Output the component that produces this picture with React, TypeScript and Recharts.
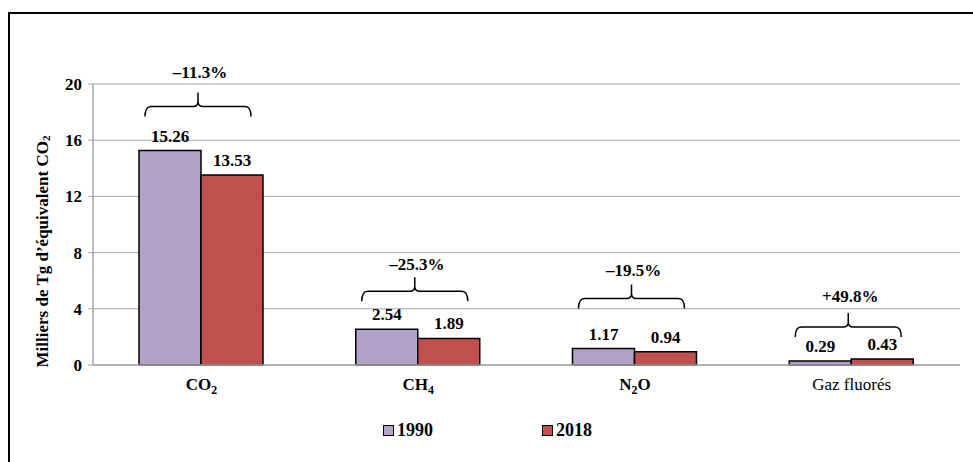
import React from 'react';
import { BarChart, Bar, XAxis, YAxis, CartesianGrid, LabelList, Legend } from 'recharts';

const categories = ['CO2', 'CH4', 'N2O', 'Gaz fluorés'];
const values1990 = [15.26, 2.54, 1.17, 0.29];
const values2018 = [13.53, 1.89, 0.94, 0.43];
const changeLabels = ['–11.3%', '–25.3%', '–19.5%', '+49.8%'];
const yTicks = [0, 4, 8, 12, 16, 20];
const seriesNames = ['1990', '2018'];

// layout (pixels): bracket distance above tallest bar, percent label distance above bracket tip
const bracketOffsets = [34, 28, 40, 22];
const pctGaps = [20, 13, 14, 16];

const data = categories.map((c, i) => ({ cat: c, v1990: values1990[i], v2018: values2018[i] }));

const FONT = '"Liberation Serif", "Times New Roman", serif';
const GRID = '#a6a6a6';
const C1990 = '#B3A2C7';
const C2018 = '#C0504D';
const FS = 17;

const renderFormula = (s: string, size: number) => {
  const parts: React.ReactNode[] = [];
  let prevSub = false;
  s.split('').forEach((ch, i) => {
    const isDigit = /\d/.test(ch);
    if (isDigit) {
      parts.push(<tspan key={i} dy={prevSub ? 0 : 4} fontSize={size * 0.7}>{ch}</tspan>);
      prevSub = true;
    } else {
      parts.push(<tspan key={i} dy={prevSub ? -4 : 0}>{ch}</tspan>);
      prevSub = false;
    }
  });
  return parts;
};

const CatTick = (props: any) => {
  const { x, y, payload } = props;
  const label: string = payload.value;
  const isFormula = /\d/.test(label);
  return (
    <text x={x} y={y + 17} textAnchor="middle" fontFamily={FONT} fontSize={FS} fontWeight={isFormula ? 'bold' : 'normal'} fill="#000">
      {renderFormula(label, FS)}
    </text>
  );
};

const renderBracket = (props: any) => {
  const { x, y, height, index } = props;
  const v0 = values1990[index];
  const v1 = values2018[index];
  const baseline = y + height;
  const ppu = height / v1;
  const top = baseline - Math.max(v0, v1) * ppu;
  const xc = x - 3;
  const hw = 53;
  const yEnd = top - bracketOffsets[index];
  const yH = yEnd - 10;
  const yTip = yEnd - 24;
  const d =
    `M ${xc - hw} ${yEnd} Q ${xc - hw} ${yH} ${xc - hw + 6} ${yH} L ${xc - 5} ${yH} Q ${xc} ${yH} ${xc} ${yH - 5} L ${xc} ${yTip} ` +
    `M ${xc + hw} ${yEnd} Q ${xc + hw} ${yH} ${xc + hw - 6} ${yH} L ${xc + 5} ${yH} Q ${xc} ${yH} ${xc} ${yH - 5}`;
  return (
    <g key={`br-${index}`}>
      <path d={d} fill="none" stroke="#000" strokeWidth={1.5} />
      <text x={xc + 2} y={yTip - pctGaps[index]} textAnchor="middle" dominantBaseline="central" fontFamily={FONT} fontSize={FS} fontWeight="bold" fill="#000">
        {changeLabels[index]}
      </text>
    </g>
  );
};

const YLabel = (props: any) => {
  const vb = props.viewBox || { x: 0, y: 84, width: 93, height: 281 };
  const cx = vb.x + 42;
  const cy = vb.y + vb.height / 2 + 27;
  return (
    <text x={cx} y={cy} transform={`rotate(-90 ${cx} ${cy})`} textAnchor="middle" dominantBaseline="central" fontFamily={FONT} fontSize={17} fontWeight="bold" fill="#000">
      <tspan>Milliers de Tg d’équivalent CO</tspan>
      <tspan dy={4} fontSize={11}>2</tspan>
    </text>
  );
};

const LegendContent = (props: any) => {
  const payload = props.payload || [];
  const lefts = [383, 542];
  return (
    <div style={{ position: 'relative', height: 20, width: 973 }}>
      {payload.map((p: any, i: number) => (
        <div key={i} style={{ position: 'absolute', left: lefts[i], top: 0, display: 'flex', alignItems: 'center', height: 20 }}>
          <span style={{ display: 'inline-block', width: 9, height: 9, background: p.color, border: '1px solid #000', marginRight: 3 }} />
          <span style={{ fontFamily: FONT, fontWeight: 'bold', fontSize: 18, color: '#000' }}>{p.value}</span>
        </div>
      ))}
    </div>
  );
};

export default function App() {
  return (
    <div style={{ position: 'absolute', left: 0, top: 0, width: 973, height: 462, overflow: 'hidden', background: '#fff' }}>
      <div style={{ position: 'absolute', left: 8, top: 12, width: 2000, height: 2000, borderLeft: '2px solid #000', borderTop: '2px solid #000' }} />
      <div style={{ position: 'absolute', left: 0, top: 0 }}>
        <BarChart width={973} height={462} data={data} margin={{ top: 84, right: 13, left: 0, bottom: 47 }} barGap={0} barSize={62}>
          <CartesianGrid vertical={false} stroke={GRID} strokeWidth={1} />
          <XAxis dataKey="cat" height={30} tickLine={false} axisLine={{ stroke: GRID, strokeWidth: 1.5 }} tick={<CatTick />} interval={0} />
          <YAxis
            width={93}
            domain={[0, 20]}
            ticks={yTicks}
            interval={0}
            tickSize={5}
            tickMargin={6}
            tickLine={{ stroke: GRID }}
            axisLine={{ stroke: GRID, strokeWidth: 1.5 }}
            tick={{ fontFamily: FONT, fontSize: FS, fontWeight: 'bold', fill: '#000' }}
            label={<YLabel />}
          />
          <Legend
            verticalAlign="bottom"
            wrapperStyle={{ position: 'absolute', left: 0, top: 420, width: 973, height: 20 }}
            content={<LegendContent />}
          />
          <Bar dataKey="v1990" name={seriesNames[0]} fill={C1990} stroke="#000" strokeWidth={1.5} isAnimationActive={false}>
            <LabelList dataKey="v1990" position="top" offset={9} style={{ fontFamily: FONT, fontSize: FS, fontWeight: 'bold', fill: '#000' }} formatter={(v: any) => Number(v).toFixed(2)} />
          </Bar>
          <Bar dataKey="v2018" name={seriesNames[1]} fill={C2018} stroke="#000" strokeWidth={1.5} isAnimationActive={false}>
            <LabelList dataKey="v2018" position="top" offset={9} style={{ fontFamily: FONT, fontSize: FS, fontWeight: 'bold', fill: '#000' }} formatter={(v: any) => Number(v).toFixed(2)} />
            <LabelList dataKey="v2018" content={renderBracket} />
          </Bar>
        </BarChart>
      </div>
    </div>
  );
}
